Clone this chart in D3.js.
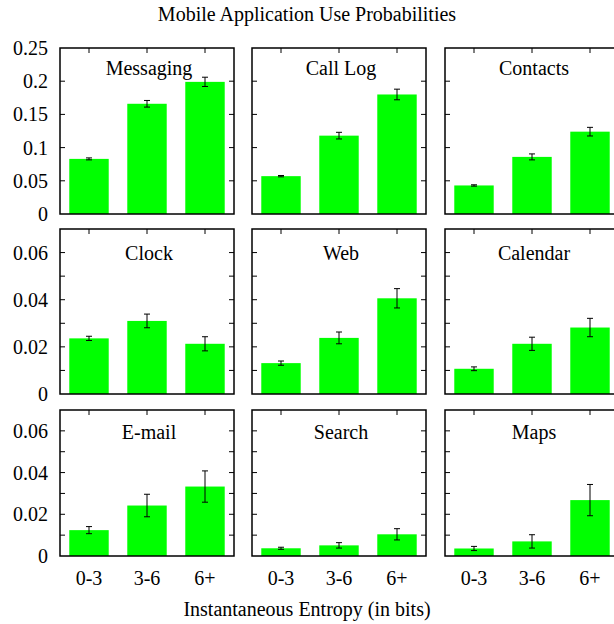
<!DOCTYPE html>
<html><head><meta charset="utf-8">
<script src="https://cdn.jsdelivr.net/npm/d3@7"></script>
</head><body style="margin:0">
<svg id="chart" width="614" height="624"></svg>
<script>
const title = "Mobile Application Use Probabilities";
const xTitle = "Instantaneous Entropy (in bits)";
const categories = ["0-3", "3-6", "6+"];
const apps = ["Messaging","Call Log","Contacts","Clock","Web","Calendar","E-mail","Search","Maps"];
const values = [
  [0.083, 0.166, 0.199],
  [0.057, 0.118, 0.180],
  [0.043, 0.086, 0.124],
  [0.0236, 0.031, 0.0213],
  [0.0131, 0.0238, 0.0406],
  [0.0107, 0.0213, 0.0282],
  [0.0124, 0.0242, 0.0333],
  [0.0037, 0.0051, 0.0104],
  [0.0036, 0.0070, 0.0268]
];
const errors = [
  [0.0015, 0.005, 0.007],
  [0.001, 0.005, 0.008],
  [0.001, 0.0045, 0.0065],
  [0.0009, 0.0029, 0.003],
  [0.0009, 0.0025, 0.0041],
  [0.0008, 0.0028, 0.0039],
  [0.0017, 0.0054, 0.0075],
  [0.0005, 0.0013, 0.0027],
  [0.0010, 0.0032, 0.0075]
];
const rowMax = [0.25, 0.07, 0.07];
const rowTickStep = [0.05, 0.01, 0.01];
const rowLabelStep = [0.05, 0.02, 0.02];

const svg = d3.select("#chart");
const colX = [60, 252, 445];
const panelW = 174;
const rows = [{top:48,bottom:214,labelDy:20},{top:229,bottom:394,labelDy:24},{top:410,bottom:556,labelDy:22}];

function txt(sel){ return sel.append("text").attr("font-size",20); }

txt(svg).attr("x",307).attr("y",21).attr("text-anchor","middle").text(title);
txt(svg).attr("x",307).attr("y",616).attr("text-anchor","middle").text(xTitle);

const fmt = v => d3.format(".2f")(v).replace(/0+$/,"").replace(/\.$/,"");

apps.forEach((app, i) => {
  const r = Math.floor(i/3), c = i%3;
  const R = rows[r];
  const x0 = colX[c];
  const g = svg.append("g");
  const x = d3.scaleBand().domain(categories).range([x0, x0+panelW]).paddingInner(0.32).paddingOuter(0.16);
  const y = d3.scaleLinear().domain([0, rowMax[r]]).range([R.bottom, R.top]);
  const nT = Math.round(rowMax[r]/rowTickStep[r]);
  const ticks = d3.range(0, nT+1).map(k => +(k*rowTickStep[r]).toFixed(4));

  g.selectAll("rect.bar").data(values[i]).join("rect")
    .attr("x",(d,j)=>x(categories[j])).attr("width",x.bandwidth())
    .attr("y",d=>y(d)).attr("height",d=>y(0)-y(d))
    .attr("fill","#00ff00");

  const tl = 5;
  ticks.forEach(t => {
    if (t===0 || t>=rowMax[r]) return;
    g.append("line").attr("x1",x0).attr("x2",x0+tl).attr("y1",y(t)).attr("y2",y(t)).attr("stroke","#000").attr("stroke-width",1);
    g.append("line").attr("x1",x0+panelW).attr("x2",x0+panelW-tl).attr("y1",y(t)).attr("y2",y(t)).attr("stroke","#000").attr("stroke-width",1);
  });
  categories.forEach(cat => {
    const cx = x(cat)+x.bandwidth()/2;
    g.append("line").attr("x1",cx).attr("x2",cx).attr("y1",R.top).attr("y2",R.top+tl).attr("stroke","#000");
  });

  values[i].forEach((v,j) => {
    const cx = x(categories[j])+x.bandwidth()/2;
    const e = errors[i][j];
    const eg = g.append("g").attr("stroke","#000").attr("stroke-width",1);
    eg.append("line").attr("x1",cx).attr("x2",cx).attr("y1",y(v-e)).attr("y2",y(v+e));
    eg.append("line").attr("x1",cx-3).attr("x2",cx+3).attr("y1",y(v-e)).attr("y2",y(v-e));
    eg.append("line").attr("x1",cx-3).attr("x2",cx+3).attr("y1",y(v+e)).attr("y2",y(v+e));
  });

  g.append("rect").attr("x",x0).attr("y",R.top).attr("width",panelW).attr("height",R.bottom-R.top)
    .attr("fill","none").attr("stroke","#000").attr("stroke-width",1.5);

  txt(g).attr("x",x0+panelW/2+2).attr("y",R.top+R.labelDy).attr("dy","0.35em")
    .attr("text-anchor","middle").text(app);

  if (c===0) {
    const nL = Math.round(rowMax[r]/rowLabelStep[r]);
    const labs = d3.range(0, nL+1).map(k => +(k*rowLabelStep[r]).toFixed(4)).filter(t => t <= rowMax[r] + 1e-9);
    labs.forEach(t => {
      txt(g).attr("x",x0-12).attr("y",y(t)).attr("dy","0.35em").attr("text-anchor","end").text(fmt(t));
    });
  }
  if (r===2) {
    categories.forEach(cat => {
      txt(g).attr("x",x(cat)+x.bandwidth()/2).attr("y",578).attr("dy","0.35em")
        .attr("text-anchor","middle").text(cat);
    });
  }
});
</script>
</body></html>
